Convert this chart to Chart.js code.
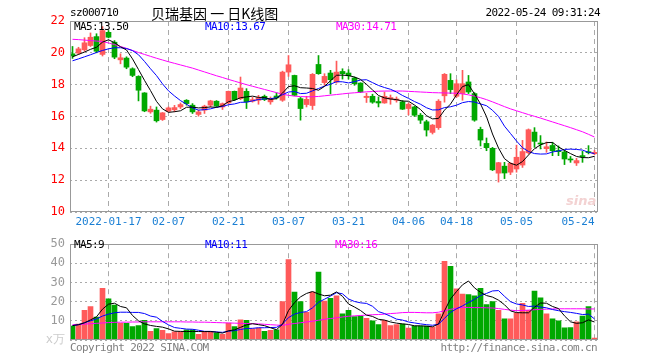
<!DOCTYPE html>
<html lang="zh">
<head>
<meta charset="UTF-8">
<title>贝瑞基因 日K线图</title>
<script src="https://cdn.jsdelivr.net/npm/chart.js"></script>
<style>
  body { margin: 0; background: #fff; }
  #wrap { position: relative; width: 660px; height: 360px; overflow: hidden; font-family: "DejaVu Sans Mono", monospace; }
  .t { position: absolute; white-space: pre; font-size: 11px; letter-spacing: -0.6px; line-height: 12px; }
  #price { position: absolute; left: 0; top: 0; }
  #vol { position: absolute; left: 0; top: 232px; }
</style>
</head>
<body>
<div id="wrap">
  <canvas id="price" width="660" height="232"></canvas>
  <canvas id="vol" width="660" height="128"></canvas>
  <div class="t" style="left:70px;top:7px;">sz000710</div>
  <div class="t" style="left:151px;top:5px;font-family:'Noto Sans CJK SC';font-size:14px;letter-spacing:0;line-height:16px;">贝瑞基因 一 日K线图</div>
  <div class="t" style="right:60px;top:7px;">2022-05-24 09:31:24</div>
  <div class="t" style="left:74px;top:21px;color:#000;">MA5:13.50</div>
  <div class="t" style="left:205px;top:21px;color:#00f;">MA10:13.67</div>
  <div class="t" style="left:336px;top:21px;color:#f0f;">MA30:14.71</div>
  <div class="t" style="left:566px;top:195px;color:#f3d2d2;font-family:'DejaVu Sans';font-style:italic;font-weight:bold;font-size:13px;letter-spacing:0;">sina</div>
  <div class="t" style="left:74px;top:239px;color:#000;">MA5:9</div>
  <div class="t" style="left:205px;top:239px;color:#00f;">MA10:11</div>
  <div class="t" style="left:335px;top:239px;color:#f0f;">MA30:16</div>
  <div class="t" style="left:70px;top:342px;color:#808080;">Copyright 2022 SINA.COM</div>
  <div class="t" style="right:63px;top:342px;color:#808080;">http://finance.sina.com.cn</div>
</div>
<script>
// trading days 2022-01-07 .. 2022-05-24, index 0..87
const tickIdx = [6, 16, 26, 36, 46, 56, 64, 74, 87];
const tickLabels = ['2022-01-17', '02-07', '02-21', '03-07', '03-21', '04-06', '04-18', '05-05', '05-24'];

const opens = [19.94,19.98,20.19,20.46,21.02,19.90,21.29,20.67,19.56,19.67,
  19.00,18.52,17.48,16.29,16.40,15.81,16.33,16.42,16.60,17.02,
  16.71,16.13,16.40,16.71,16.96,16.60,16.85,17.58,17.12,17.58,
  16.96,17.02,17.27,16.92,17.29,17.02,18.79,18.58,17.12,16.75,
  16.69,19.27,18.13,18.73,18.17,18.83,18.73,18.42,18.10,17.19,
  17.27,16.94,16.85,17.10,17.02,16.92,16.50,16.60,16.08,15.67,
  15.00,15.30,17.30,18.27,17.27,17.44,18.17,17.44,15.19,14.31,
  14.00,12.44,12.88,12.50,12.70,12.95,13.72,15.02,14.32,13.98,
  14.18,13.86,13.77,13.33,13.08,13.52,13.76,13.66];
const highs = [20.40,20.35,20.95,21.25,21.20,21.65,21.40,20.77,19.94,19.75,
  19.06,18.56,17.50,16.65,16.60,16.25,16.60,16.70,16.85,17.06,
  16.81,16.40,16.71,17.02,17.00,16.85,17.60,17.60,18.48,17.75,
  17.20,17.33,17.35,17.23,17.48,18.85,19.83,18.60,17.20,17.27,
  18.70,19.83,18.69,18.90,19.48,19.00,18.94,18.48,18.12,17.46,
  17.40,17.23,17.54,17.35,17.23,17.00,16.85,16.65,16.19,15.77,
  15.50,17.06,18.70,18.69,18.30,18.90,18.58,17.50,15.33,14.65,
  14.06,13.12,13.12,13.10,14.20,14.50,15.22,15.30,14.80,14.40,
  14.38,14.15,13.87,13.49,13.37,13.81,14.17,13.87];
const lows = [19.65,19.90,20.10,20.40,20.00,19.80,20.94,19.63,19.31,19.00,
  18.50,16.98,16.30,16.20,15.65,15.75,16.30,16.30,16.50,16.71,
  16.19,16.02,16.19,16.60,16.60,16.44,16.80,17.00,17.06,16.50,
  16.90,16.77,17.00,16.77,17.10,16.95,18.52,17.30,15.77,16.60,
  16.44,18.65,17.96,17.42,18.10,18.35,18.35,17.96,17.50,16.88,
  16.83,16.60,16.83,16.77,16.90,16.44,16.10,16.00,15.56,14.77,
  14.90,15.19,16.90,17.44,17.20,17.02,17.44,15.70,14.15,13.85,
  12.60,11.88,12.10,12.35,12.50,12.80,13.65,14.06,13.96,13.75,
  13.54,13.54,12.98,13.12,12.92,13.12,13.65,13.60];
const closes = [19.81,20.25,20.63,20.98,20.10,21.40,20.98,19.73,19.69,19.10,
  18.58,17.65,16.35,16.46,15.73,16.23,16.54,16.56,16.75,16.81,
  16.29,16.29,16.65,16.98,16.65,16.81,17.58,17.06,17.79,16.92,
  17.06,17.19,17.06,17.12,17.17,18.79,19.25,17.33,16.50,17.08,
  18.65,18.69,18.52,18.31,18.79,18.69,18.56,18.06,17.54,17.27,
  16.90,16.85,17.27,17.19,17.10,16.46,16.77,16.08,15.77,15.15,
  15.46,16.96,18.65,17.69,18.06,18.06,17.54,15.77,14.52,14.04,
  12.65,13.10,12.45,13.06,13.44,13.80,15.17,14.44,14.27,14.10,
  13.85,13.79,13.33,13.27,13.23,13.48,13.73,13.75];

const ma5 = [19.75,19.90,20.05,20.22,20.35,20.67,20.82,20.64,20.38,20.18,
  19.62,18.95,18.27,17.63,16.95,16.48,16.26,16.30,16.36,16.58,
  16.59,16.54,16.56,16.60,16.57,16.68,16.93,17.02,17.18,17.23,
  17.28,17.20,17.20,17.07,17.12,17.47,17.88,17.93,17.81,17.79,
  17.76,17.65,17.89,18.25,18.59,18.60,18.57,18.48,18.33,18.02,
  17.67,17.32,17.17,17.10,17.06,16.97,16.96,16.72,16.44,16.05,
  15.85,15.88,16.40,16.78,17.36,17.88,18.00,17.42,16.79,15.99,
  14.90,14.02,13.35,13.06,12.94,13.17,13.58,13.98,14.22,14.36,
  14.37,14.09,13.87,13.67,13.49,13.42,13.41,13.50];
const ma10 = [19.50,19.62,19.75,19.88,20.02,20.15,20.25,20.32,20.32,20.27,
  20.14,19.88,19.46,19.00,18.57,18.05,17.61,17.29,17.00,16.77,
  16.54,16.40,16.43,16.48,16.58,16.63,16.74,16.79,16.89,16.90,
  16.98,17.07,17.11,17.12,17.18,17.37,17.54,17.57,17.44,17.46,
  17.61,17.76,17.91,18.03,18.19,18.18,18.11,18.19,18.29,18.31,
  18.13,17.95,17.82,17.71,17.54,17.32,17.14,16.94,16.77,16.55,
  16.41,16.42,16.56,16.61,16.71,16.87,16.94,16.91,16.79,16.68,
  16.39,16.01,15.39,14.93,14.46,14.04,13.80,13.67,13.64,13.65,
  13.77,13.84,13.93,13.95,13.93,13.89,13.75,13.67];
const ma30 = [20.85,20.83,20.80,20.77,20.74,20.71,20.62,20.52,20.40,20.28,
  20.15,20.02,19.90,19.78,19.66,19.55,19.44,19.34,19.24,19.14,
  19.04,18.92,18.80,18.68,18.56,18.45,18.33,18.22,18.11,18.00,
  17.90,17.80,17.70,17.60,17.50,17.40,17.33,17.28,17.25,17.24,
  17.24,17.26,17.30,17.34,17.38,17.42,17.46,17.49,17.52,17.55,
  17.57,17.59,17.60,17.60,17.60,17.60,17.58,17.56,17.54,17.52,
  17.50,17.49,17.48,17.47,17.46,17.42,17.36,17.28,17.18,17.06,
  16.92,16.77,16.62,16.48,16.36,16.24,16.12,16.01,15.90,15.78,
  15.66,15.54,15.42,15.30,15.17,15.04,14.88,14.71];

// volume, x万
const volumes = [7.2,8.3,15.5,17.5,12,27,21.5,18.2,8.7,8.7,
  7,7.5,10.3,4.5,6,5,3.3,4.2,4.2,5.3,
  5.3,3,4.2,4.2,3.7,3,8.8,7,10.5,10.3,
  5.8,6.2,4.5,5,5.3,20,42,25,20,14.5,
  25,35.5,20.3,21.7,23,13.7,15.5,12.2,12.5,11.3,
  10,8,10.3,7.5,8,8.3,6.2,7.2,7.2,7.2,
  6.7,13.7,41,38.5,26.7,24,23.7,23,27,18.5,
  20,15.5,11,11,14.2,19.2,15.5,25.5,22,13.7,
  11,10,6.3,6.5,9.5,12.5,17.5,1];
const vma5 = [7.5,8.0,9.0,10.5,12.1,16.1,18.7,19.2,17.5,16.8,
  12.8,10.0,8.4,7.6,7.1,6.7,5.8,4.6,4.5,4.4,
  4.5,4.4,4.4,4.4,4.1,3.6,4.8,5.3,6.6,7.9,
  8.5,8.0,7.5,6.4,5.4,8.2,15.4,19.5,22.5,24.3,
  25.3,24.0,23.1,23.4,25.1,22.8,18.8,17.2,15.4,13.0,
  12.3,10.8,10.4,9.4,8.8,8.4,8.1,7.4,7.4,7.2,
  6.9,8.4,15.2,21.4,25.3,28.8,30.8,27.2,24.9,23.2,
  22.4,20.8,18.4,15.2,14.3,14.2,14.2,17.1,19.3,19.2,
  17.5,16.4,12.6,9.5,8.7,9.0,10.5,9.4];
const vma10 = [7.5,8.0,9.0,10.0,11.0,12.5,13.5,14.2,14.5,14.5,
  14.4,14.4,13.8,12.5,11.9,9.7,7.9,6.5,6.1,5.7,
  5.6,5.1,4.5,4.5,4.2,4.0,4.6,4.9,5.5,6.0,
  6.1,6.4,6.4,6.5,6.6,8.3,11.7,13.5,14.4,14.8,
  16.8,19.7,21.3,22.9,24.7,24.1,21.4,20.1,19.4,19.1,
  17.6,14.8,13.8,12.4,10.9,10.4,9.4,8.9,8.4,8.0,
  7.7,8.2,11.3,14.4,16.3,17.8,19.6,21.2,23.2,24.3,
  25.6,25.8,22.8,20.0,18.8,18.3,17.5,17.7,17.2,16.8,
  15.9,15.3,14.8,14.4,13.9,13.3,13.5,11.0];
const vma30 = [8.0,8.1,8.3,8.5,8.7,8.9,9.1,9.2,9.3,9.3,
  9.4,9.4,9.5,9.5,9.5,9.5,9.5,9.5,9.5,9.4,
  9.4,9.3,9.3,9.2,9.1,9.0,8.9,8.8,8.7,8.6,
  8.5,8.4,8.2,8.0,7.8,7.6,8.2,8.6,9.0,9.4,
  9.8,10.3,10.8,11.2,11.6,12.0,12.4,12.6,12.8,13.0,
  13.2,13.3,13.5,13.8,14.0,14.3,14.4,14.4,14.3,14.2,
  14.2,14.5,15.2,16.0,16.6,17.0,17.0,16.9,16.9,16.8,
  16.7,16.4,16.0,15.6,15.3,15.4,15.6,15.8,16.0,16.1,
  16.2,16.3,16.3,16.3,16.3,16.3,16.2,16.2];

const RED = '#ff5a5a';
const GREEN = '#00a800';
const MONO = 'DejaVu Sans Mono';
const xMin = -0.4167, xMax = 87.5833;

const idx = closes.map((c, i) => i);
const upColor = idx.map(i => closes[i] >= opens[i] ? RED : GREEN);

function lineSet(values, color) {
  return {
    type: 'line',
    data: idx.map(i => ({ x: i, y: values[i] })),
    borderColor: color,
    borderWidth: 1,
    pointRadius: 0,
    tension: 0,
    order: 1
  };
}

// grey frame round each plot area
const frame = {
  id: 'frame',
  afterDraw(chart) {
    const a = chart.chartArea, ctx = chart.ctx;
    ctx.save();
    ctx.strokeStyle = '#999';
    ctx.lineWidth = 1;
    ctx.strokeRect(Math.round(a.left) + 0.5, Math.round(a.top) + 0.5,
      Math.round(a.right - a.left) - 1, Math.round(a.bottom - a.top) - 1);
    ctx.restore();
  }
};

function xScale(showLabels) {
  return {
    type: 'linear',
    offset: false,
    min: xMin,
    max: xMax,
    afterBuildTicks: s => { s.ticks = tickIdx.map(v => ({ value: v })); },
    afterFit: s => { s.height = showLabels ? 20 : 0; },
    grid: { color: '#aaa', drawTicks: false, offset: false },
    border: { display: false, dash: [5, 4] },
    ticks: {
      display: showLabels,
      autoSkip: false,
      maxRotation: 0,
      padding: 4,
      color: '#1a7fd4',
      font: { family: MONO, size: 11 },
      callback: v => {
        const k = tickIdx.indexOf(v);
        // last label sits left of its line, as in the original
        return k === tickLabels.length - 1 ? tickLabels[k] + '     ' : tickLabels[k];
      }
    }
  };
}

new Chart(document.getElementById('price'), {
  type: 'bar',
  data: {
    datasets: [
      lineSet(ma5, '#000'),
      lineSet(ma10, '#0000ff'),
      lineSet(ma30, '#ff00ff'),
      {
        data: idx.map(i => ({ x: i, y: [opens[i], closes[i]] })),
        backgroundColor: upColor,
        barThickness: 5,
        minBarLength: 1,
        grouped: false,
        order: 2
      },
      {
        data: idx.map(i => ({ x: i, y: [lows[i], highs[i]] })),
        backgroundColor: upColor,
        barThickness: 1,
        grouped: false,
        order: 3
      }
    ]
  },
  options: {
    responsive: false,
    animation: false,
    devicePixelRatio: 1,
    layout: { padding: { top: 21, right: 62, bottom: 0, left: 0 } },
    plugins: { legend: { display: false }, tooltip: { enabled: false } },
    scales: {
      x: xScale(true),
      y: {
        min: 10,
        max: 22,
        afterBuildTicks: s => { s.ticks = [10, 12, 14, 16, 18, 20, 22].map(v => ({ value: v })); },
        afterFit: s => { s.width = 70; },
        grid: { color: '#aaa', drawTicks: false },
        border: { display: false, dash: [2, 3] },
        ticks: { color: '#f00', padding: 5, font: { family: MONO, size: 12 } }
      }
    }
  },
  plugins: [frame]
});

new Chart(document.getElementById('vol'), {
  type: 'bar',
  data: {
    datasets: [
      lineSet(vma5, '#000'),
      lineSet(vma10, '#0000ff'),
      lineSet(vma30, '#ff00ff'),
      {
        data: idx.map(i => ({ x: i, y: volumes[i] })),
        backgroundColor: upColor,
        barThickness: 5,
        grouped: false,
        order: 2
      }
    ]
  },
  options: {
    responsive: false,
    animation: false,
    devicePixelRatio: 1,
    layout: { padding: { top: 8, right: 62, bottom: 20, left: 0 } },
    plugins: { legend: { display: false }, tooltip: { enabled: false } },
    scales: {
      x: xScale(false),
      y: {
        min: 0,
        max: 50,
        afterBuildTicks: s => { s.ticks = [0, 10, 20, 30, 40, 50].map(v => ({ value: v })); },
        afterFit: s => { s.width = 70; },
        grid: { color: '#aaa', drawTicks: false },
        border: { display: false, dash: [2, 3] },
        ticks: {
          padding: 5,
          color: c => c.tick.value === 0 ? '#ccc' : '#999',
          font: { family: MONO, size: 12 },
          callback: v => v === 0 ? 'x万' : v
        }
      }
    }
  },
  plugins: [frame]
});
</script>
</body>
</html>
